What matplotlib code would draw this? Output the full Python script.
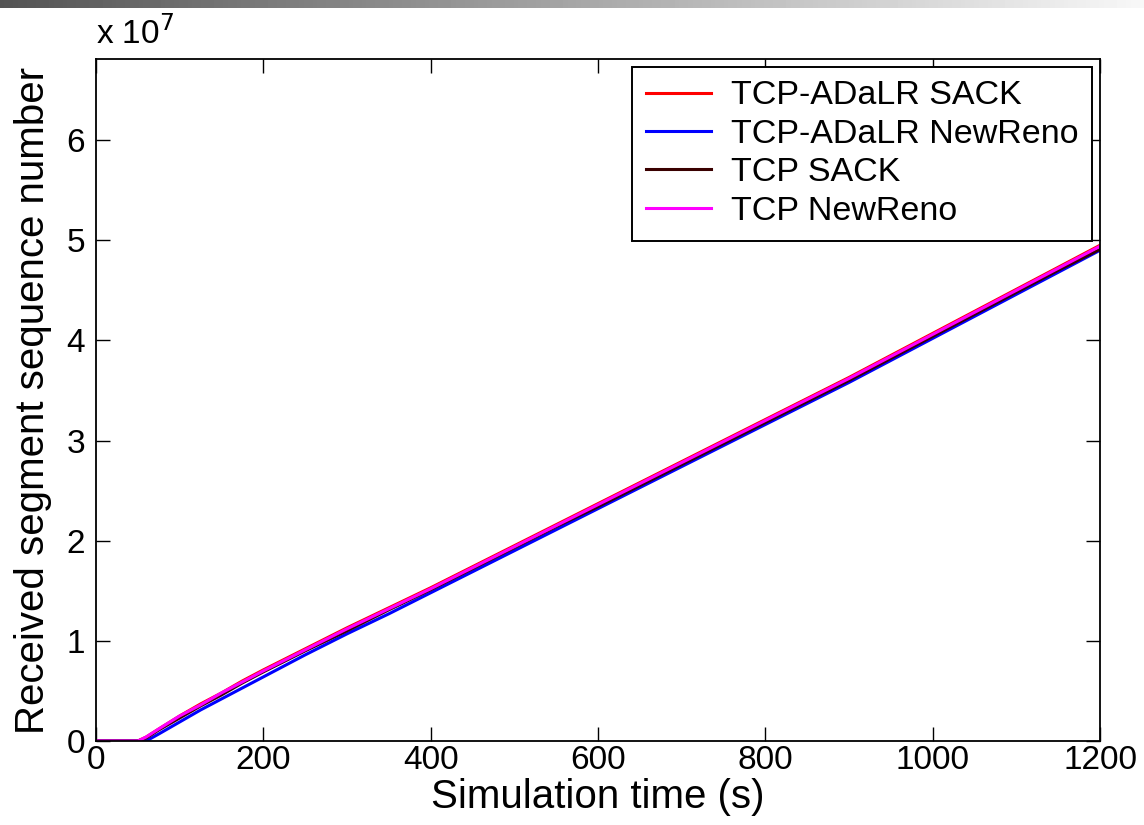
import numpy as np
import matplotlib
matplotlib.use('Agg')
import matplotlib.pyplot as plt
from matplotlib.ticker import FuncFormatter

plt.rcParams['font.family'] = ['Liberation Sans', 'DejaVu Sans']

# simulation time (s)
t = [0, 25, 50, 60, 75, 100, 125, 150, 175, 200, 250, 300, 350, 400, 450, 500,
     550, 600, 650, 700, 750, 800, 850, 900, 950, 1000, 1050, 1100, 1150, 1200]

# received segment sequence number, in units of 1e7
adalr_sack = [0, 0, 0, 0.04, 0.12, 0.25, 0.37, 0.48, 0.60, 0.71, 0.92, 1.13, 1.33,
              1.53, 1.74, 1.95, 2.16, 2.37, 2.58, 2.79, 3.00, 3.21, 3.42, 3.63,
              3.85, 4.07, 4.29, 4.51, 4.73, 4.95]
adalr_newreno = [0, 0, 0, 0.0, 0.07, 0.19, 0.31, 0.42, 0.53, 0.64, 0.86, 1.07, 1.27,
                 1.48, 1.69, 1.90, 2.11, 2.32, 2.53, 2.74, 2.95, 3.16, 3.37, 3.58,
                 3.80, 4.02, 4.24, 4.46, 4.68, 4.90]
tcp_sack = [0, 0, 0, 0.03, 0.11, 0.23, 0.35, 0.46, 0.58, 0.69, 0.90, 1.10, 1.31,
            1.51, 1.72, 1.93, 2.14, 2.34, 2.55, 2.76, 2.97, 3.18, 3.39, 3.60,
            3.82, 4.04, 4.26, 4.48, 4.70, 4.91]
tcp_newreno = [0, 0, 0, 0.04, 0.12, 0.25, 0.36, 0.48, 0.59, 0.70, 0.91, 1.12, 1.32,
               1.52, 1.73, 1.94, 2.15, 2.36, 2.57, 2.78, 2.99, 3.20, 3.41, 3.62,
               3.84, 4.06, 4.28, 4.50, 4.72, 4.94]

series = [
    ('TCP-ADaLR SACK', adalr_sack, '#ff0000'),
    ('TCP-ADaLR NewReno', adalr_newreno, '#0000ff'),
    ('TCP SACK', tcp_sack, '#3a0000'),
    ('TCP NewReno', tcp_newreno, '#ff00ff'),
]

fig = plt.figure(figsize=(11.44, 8.25), dpi=100)

# slide header gradient strip
band = fig.add_axes([0, 1 - 8 / 825, 1, 8 / 825])
band.imshow(np.linspace(0.33, 0.97, 256).reshape(1, -1), cmap='gray', vmin=0, vmax=1,
            aspect='auto', extent=[0, 1, 0, 1])
band.axis('off')

ax = fig.add_axes([96 / 1144, 84 / 825, 1004 / 1144, 682 / 825])
for name, vals, col in series:
    ax.plot(t, np.array(vals) * 1e7, color=col, lw=2.2, label=name)

ax.set_xlim(0, 1200)
ax.set_ylim(0, 6.81e7)
ax.set_xticks(range(0, 1201, 200))
ax.set_yticks(np.arange(0, 7) * 1e7)
ax.yaxis.set_major_formatter(FuncFormatter(lambda v, p: '%g' % (v / 1e7)))
ax.tick_params(direction='in', length=10, width=1, top=True, right=True,
               labelsize=24)
ax.tick_params(axis='x', pad=3)
ax.tick_params(axis='y', pad=8)
for s in ax.spines.values():
    s.set_linewidth(1.3)

ax.set_xlabel('Simulation time (s)', fontsize=29, labelpad=1)
ax.set_ylabel('Received segment sequence number', fontsize=29, labelpad=10)
ax.text(0, 1.012, 'x 10$^{7}$', transform=ax.transAxes, fontsize=24,
        ha='left', va='bottom')

leg = ax.legend(loc='upper right', fontsize=24.5, fancybox=False, framealpha=1,
                edgecolor='black', handlelength=1.9, handletextpad=0.6,
                borderaxespad=0.23, labelspacing=0.22, borderpad=0.4)
leg.get_frame().set_linewidth(1.4)

fig.savefig('out.png', dpi=100)
